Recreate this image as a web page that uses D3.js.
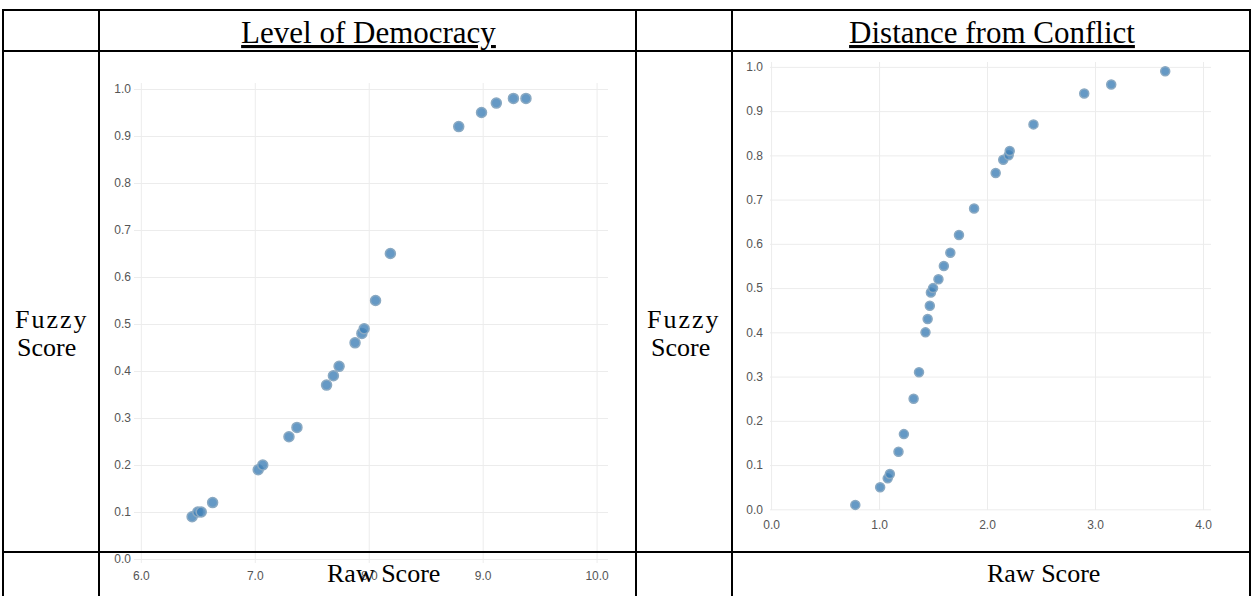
<!DOCTYPE html>
<html>
<head>
<meta charset="utf-8">
<script src="https://cdn.jsdelivr.net/npm/d3@7"></script>
<style>
  html, body { margin: 0; padding: 0; background: #fff; }
  svg { display: block; }
  .tick text { font-family: "Liberation Sans", Arial, sans-serif; font-size: 12px; fill: #555; }
  .grid line { stroke: #ececec; stroke-width: 1; }
  .serif { font-family: "Liberation Serif", "Times New Roman", serif; fill: #000; }
</style>
</head>
<body>
<svg id="chart" width="1252" height="596"></svg>
<script>
// ---- data ----
const headers = ["Level of Democracy", "Distance from Conflict"];
const rowLabel = ["Fuzzy", "Score"];
const xAxisLabel = "Raw Score";

const democracyRaw   = [6.45, 6.50, 6.53, 6.63, 7.03, 7.07, 7.30, 7.37, 7.63, 7.69, 7.74, 7.88, 7.94, 7.96, 8.06, 8.19, 8.79, 8.99, 9.12, 9.27, 9.38];
const democracyFuzzy = [0.09, 0.10, 0.10, 0.12, 0.19, 0.20, 0.26, 0.28, 0.37, 0.39, 0.41, 0.46, 0.48, 0.49, 0.55, 0.65, 0.92, 0.95, 0.97, 0.98, 0.98];

const conflictRaw   = [0.78, 1.01, 1.08, 1.10, 1.18, 1.23, 1.32, 1.37, 1.43, 1.45, 1.47, 1.48, 1.50, 1.55, 1.60, 1.66, 1.74, 1.88, 2.08, 2.15, 2.20, 2.21, 2.43, 2.90, 3.15, 3.65];
const conflictFuzzy = [0.01, 0.05, 0.07, 0.08, 0.13, 0.17, 0.25, 0.31, 0.40, 0.43, 0.46, 0.49, 0.50, 0.52, 0.55, 0.58, 0.62, 0.68, 0.76, 0.79, 0.80, 0.81, 0.87, 0.94, 0.96, 0.99];

const yTicks = [0.0, 0.1, 0.2, 0.3, 0.4, 0.5, 0.6, 0.7, 0.8, 0.9, 1.0];
const democracyXTicks = [6, 7, 8, 9, 10];
const conflictXTicks = [0, 1, 2, 3, 4];

const svg = d3.select("#chart");
svg.append("rect").attr("width", 1252).attr("height", 596).attr("fill", "#fff");

function scatter(cfg) {
  const g = svg.append("g");
  const x = d3.scaleLinear().domain(cfg.xDomain).range([cfg.left, cfg.right]);
  const y = d3.scaleLinear().domain(cfg.yDomain).range([cfg.bottom, cfg.top]);

  // horizontal grid + y labels
  const yAxis = d3.axisLeft(y).tickValues(yTicks).tickFormat(d3.format(".1f"))
    .tickSize(-(cfg.right - cfg.left)).tickPadding(cfg.yPad);
  const ya = g.append("g").attr("class", "grid").attr("transform", `translate(${cfg.left},0)`).call(yAxis);
  ya.select(".domain").remove();

  // vertical grid + x labels
  const xAxis = d3.axisBottom(x).tickValues(cfg.xTicks).tickFormat(d3.format(".1f"))
    .tickSize(-(cfg.bottom - cfg.top)).tickPadding(cfg.xPad);
  const xa = g.append("g").attr("class", "grid").attr("transform", `translate(0,${cfg.bottom})`).call(xAxis);
  xa.select(".domain").remove();

  g.append("g").selectAll("circle")
    .data(cfg.xs.map((v, i) => [v, cfg.ys[i]]))
    .join("circle")
    .attr("cx", d => x(d[0]))
    .attr("cy", d => y(d[1]))
    .attr("r", cfg.r)
    .attr("fill", "#3f80b7")
    .attr("fill-opacity", 0.8)
    .attr("stroke", "#8aa9c2")
    .attr("stroke-width", 1.5);
}

scatter({
  xs: democracyRaw, ys: democracyFuzzy, xTicks: democracyXTicks,
  xDomain: [5.94, 10.10], yDomain: [-0.0085, 1.0128],
  left: 134, right: 608, top: 83, bottom: 563, r: 5, yPad: 3, xPad: 8
});

scatter({
  xs: conflictRaw, ys: conflictFuzzy, xTicks: conflictXTicks,
  xDomain: [-0.01, 4.074], yDomain: [-0.0015, 1.011],
  left: 770, right: 1211, top: 62, bottom: 510, r: 4.5, yPad: 7, xPad: 10
});

// ---- table lines ----
const tbl = svg.append("g").attr("stroke", "#000").attr("stroke-width", 2);
[3, 99, 636, 732, 1250].forEach(xv =>
  tbl.append("line").attr("x1", xv).attr("x2", xv).attr("y1", 9).attr("y2", 596));
[10, 51, 552].forEach(yv =>
  tbl.append("line").attr("x1", 2).attr("x2", 1251).attr("y1", yv).attr("y2", yv));

// ---- table text ----
const headerX = [368.5, 992];
headers.forEach((h, i) => {
  svg.append("text").attr("class", "serif")
    .attr("x", headerX[i]).attr("y", 43)
    .attr("text-anchor", "middle")
    .style("font-size", "31px")
    .style("text-decoration", "underline")
    .text(h);
});

[[15, 17], [647, 651]].forEach(([fx, sx]) => {
  svg.append("text").attr("class", "serif").attr("x", fx).attr("y", 328)
    .style("font-size", "26px").style("letter-spacing", "2px").text(rowLabel[0]);
  svg.append("text").attr("class", "serif").attr("x", sx).attr("y", 356)
    .style("font-size", "26px").text(rowLabel[1]);
});

[327, 987].forEach(xv => {
  svg.append("text").attr("class", "serif").attr("x", xv).attr("y", 582)
    .style("font-size", "26px").text(xAxisLabel);
});
</script>
</body>
</html>
